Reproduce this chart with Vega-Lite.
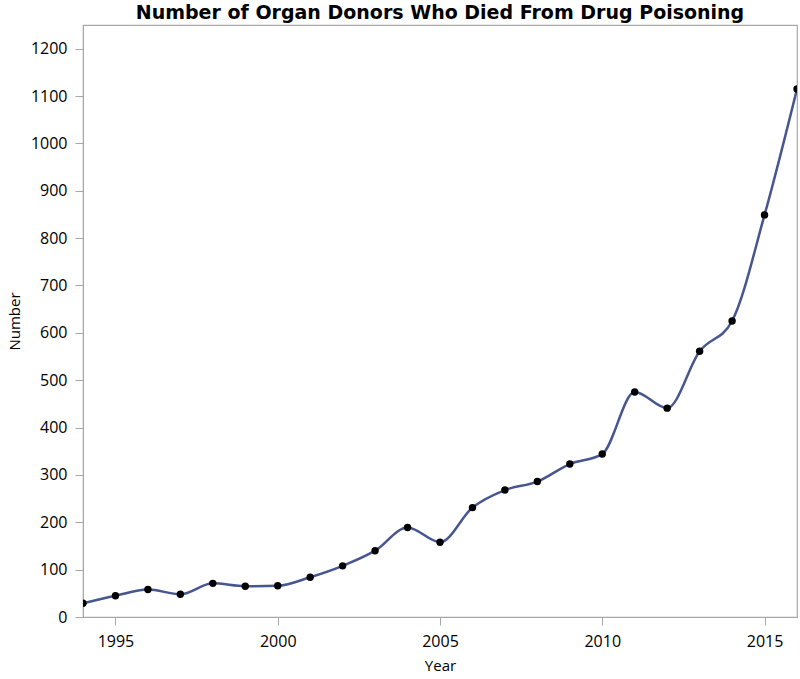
{
  "$schema": "https://vega.github.io/schema/vega-lite/v6.json",
  "width": 714,
  "height": 592,
  "autosize": {"type": "none"},
  "padding": {"left": 83, "top": 25, "right": 3, "bottom": 62},
  "background": "white",
  "title": {
    "text": "Number of Organ Donors Who Died From Drug Poisoning",
    "font": "DejaVu Sans",
    "fontSize": 19,
    "fontWeight": "bold",
    "color": "black",
    "anchor": "middle",
    "offset": 2
  },
  "config": {
    "view": {"stroke": "#a8a8a8", "strokeWidth": 1.2},
    "axis": {
      "labelFont": "Open Sans",
      "labelFontSize": 16,
      "labelColor": "black",
      "titleFont": "Open Sans",
      "titleFontSize": 15,
      "titleFontWeight": "normal",
      "titleColor": "black",
      "domainColor": "#a8a8a8",
      "tickColor": "#a8a8a8",
      "tickSize": 8,
      "grid": false
    }
  },
  "data": {
    "values": [
      {"Year": 1994, "Number": 29},
      {"Year": 1995, "Number": 45},
      {"Year": 1996, "Number": 58},
      {"Year": 1997, "Number": 48},
      {"Year": 1998, "Number": 71},
      {"Year": 1999, "Number": 65},
      {"Year": 2000, "Number": 66},
      {"Year": 2001, "Number": 84},
      {"Year": 2002, "Number": 108},
      {"Year": 2003, "Number": 140},
      {"Year": 2004, "Number": 189},
      {"Year": 2005, "Number": 158},
      {"Year": 2006, "Number": 231},
      {"Year": 2007, "Number": 268},
      {"Year": 2008, "Number": 286},
      {"Year": 2009, "Number": 323},
      {"Year": 2010, "Number": 344},
      {"Year": 2011, "Number": 475},
      {"Year": 2012, "Number": 441},
      {"Year": 2013, "Number": 561},
      {"Year": 2014, "Number": 625},
      {"Year": 2015, "Number": 849},
      {"Year": 2016, "Number": 1115}
    ]
  },
  "encoding": {
    "x": {
      "field": "Year",
      "type": "quantitative",
      "scale": {"domain": [1994, 2016], "nice": false, "zero": false},
      "axis": {"values": [1995, 2000, 2005, 2010, 2015], "format": "d", "title": "Year", "labelPadding": 8, "titlePadding": 9}
    },
    "y": {
      "field": "Number",
      "type": "quantitative",
      "scale": {"domain": [0, 1250], "nice": false},
      "axis": {"values": [0, 100, 200, 300, 400, 500, 600, 700, 800, 900, 1000, 1100, 1200], "format": "d", "title": "Number", "labelPadding": 8, "titlePadding": 8}
    }
  },
  "layer": [
    {"mark": {"type": "line", "interpolate": "monotone", "color": "#46568e", "strokeWidth": 2.5, "clip": true}},
    {"mark": {"type": "point", "filled": true, "color": "black", "opacity": 1, "size": 55, "clip": true}}
  ]
}
